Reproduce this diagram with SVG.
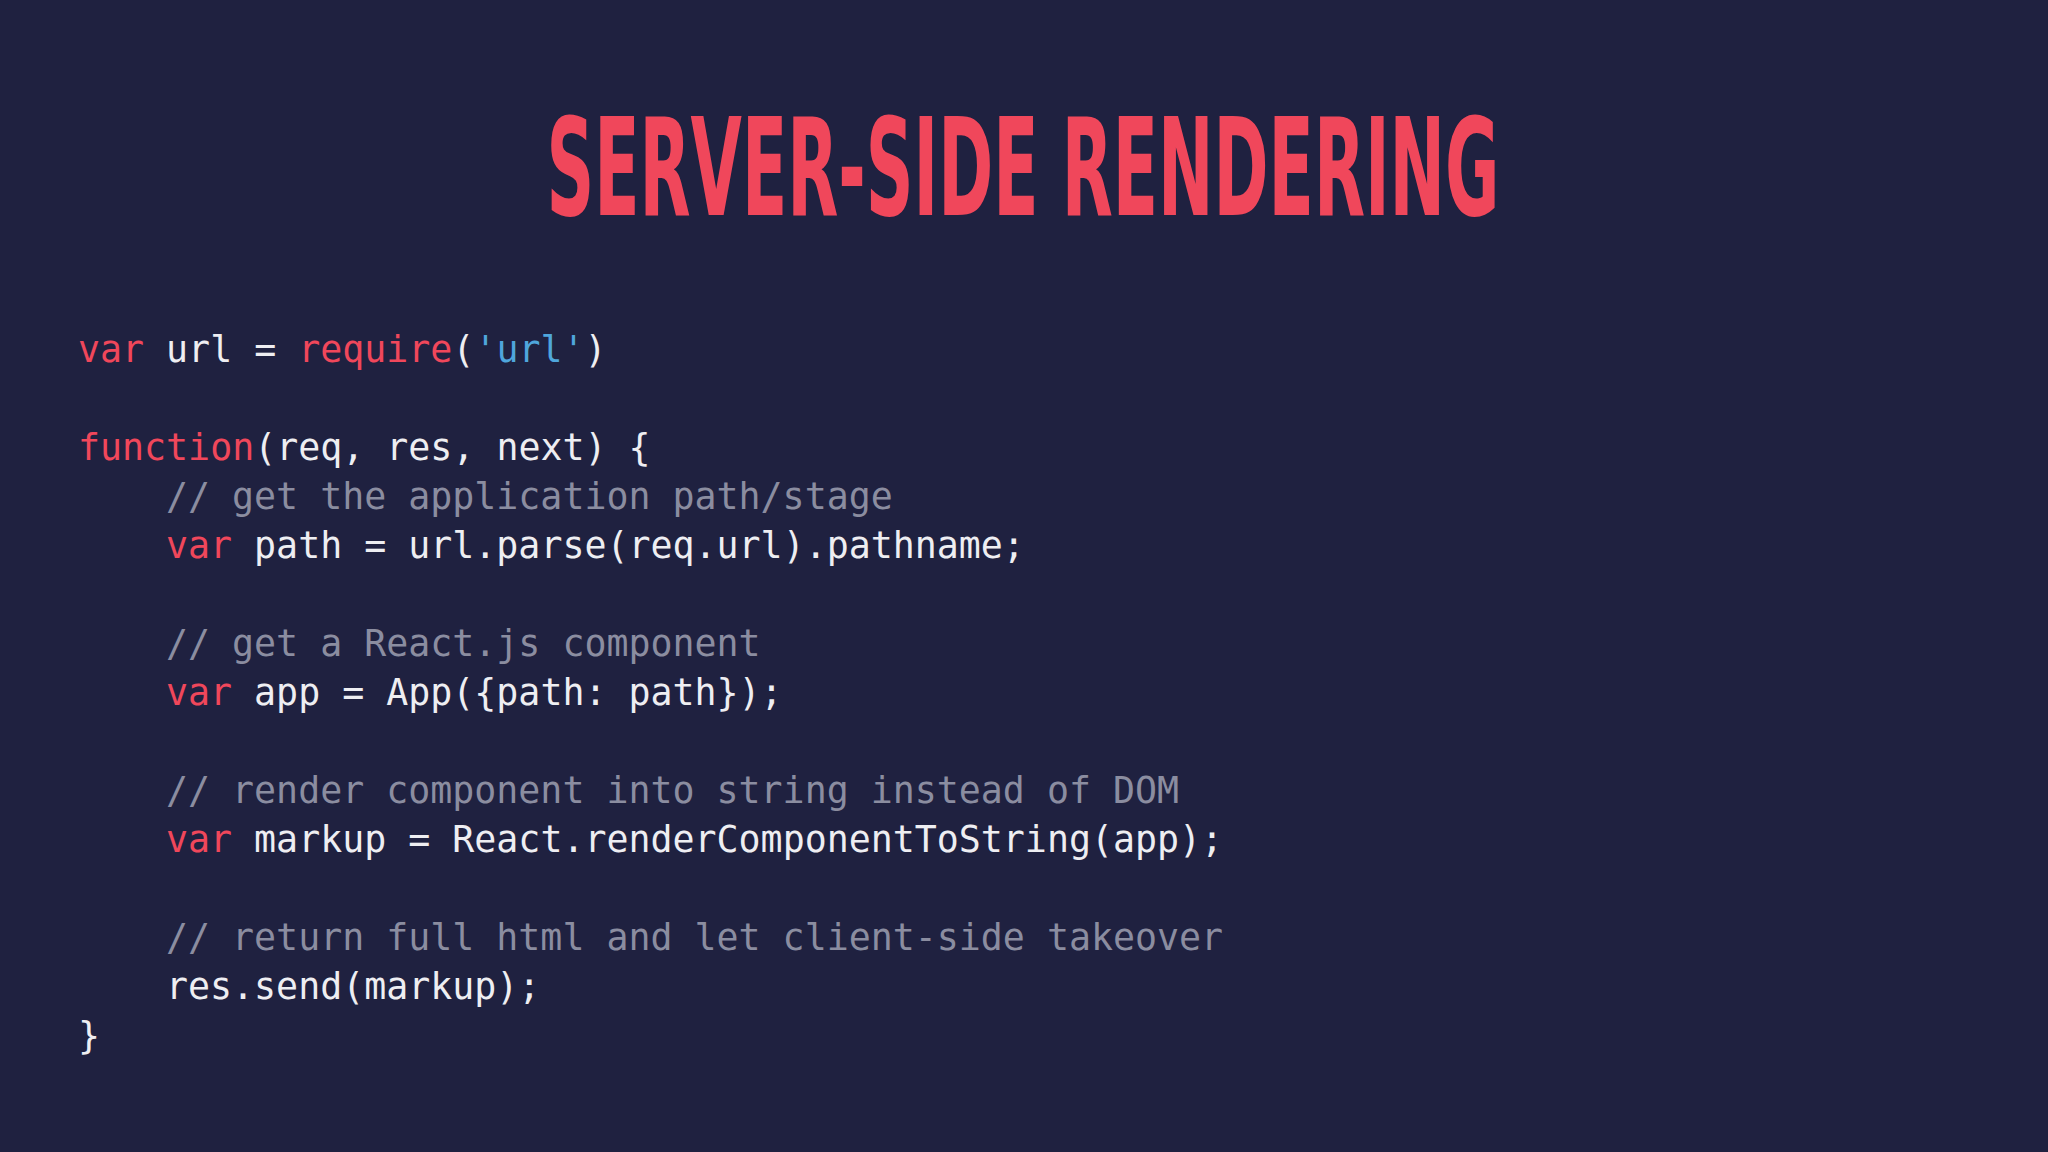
<svg xmlns="http://www.w3.org/2000/svg" width="2048" height="1152" viewBox="0 0 2048 1152">
<style>
.c{font-family:"DejaVu Sans Mono","Liberation Mono",monospace;font-size:36.6px;fill:#eeeef2;white-space:pre}
.k{fill:#f0475b}.s{fill:#4fa6dc}.m{fill:#8b8da0}
</style>
<rect width="2048" height="1152" fill="#1f2140"/>
<text x="1023" y="215" text-anchor="middle" font-family="'DejaVu Sans Condensed','Liberation Sans',sans-serif" font-weight="bold" font-size="136" fill="#f0475b" textLength="953" lengthAdjust="spacingAndGlyphs">SERVER-SIDE RENDERING</text>
<g xml:space="preserve">
<text class="c" x="78" y="362"><tspan class="k">var</tspan> url = <tspan class="k">require</tspan>(<tspan class="s">'url'</tspan>)</text>
<text class="c" x="78" y="460"><tspan class="k">function</tspan>(req, res, next) {</text>
<text class="c m" x="166" y="509">// get the application path/stage</text>
<text class="c" x="166" y="558"><tspan class="k">var</tspan> path = url.parse(req.url).pathname;</text>
<text class="c m" x="166" y="656">// get a React.js component</text>
<text class="c" x="166" y="705"><tspan class="k">var</tspan> app = App({path: path});</text>
<text class="c m" x="166" y="803">// render component into string instead of DOM</text>
<text class="c" x="166" y="852"><tspan class="k">var</tspan> markup = React.renderComponentToString(app);</text>
<text class="c m" x="166" y="950">// return full html and let client-side takeover</text>
<text class="c" x="166" y="999">res.send(markup);</text>
<text class="c" x="78" y="1048">}</text>
</g>
</svg>
